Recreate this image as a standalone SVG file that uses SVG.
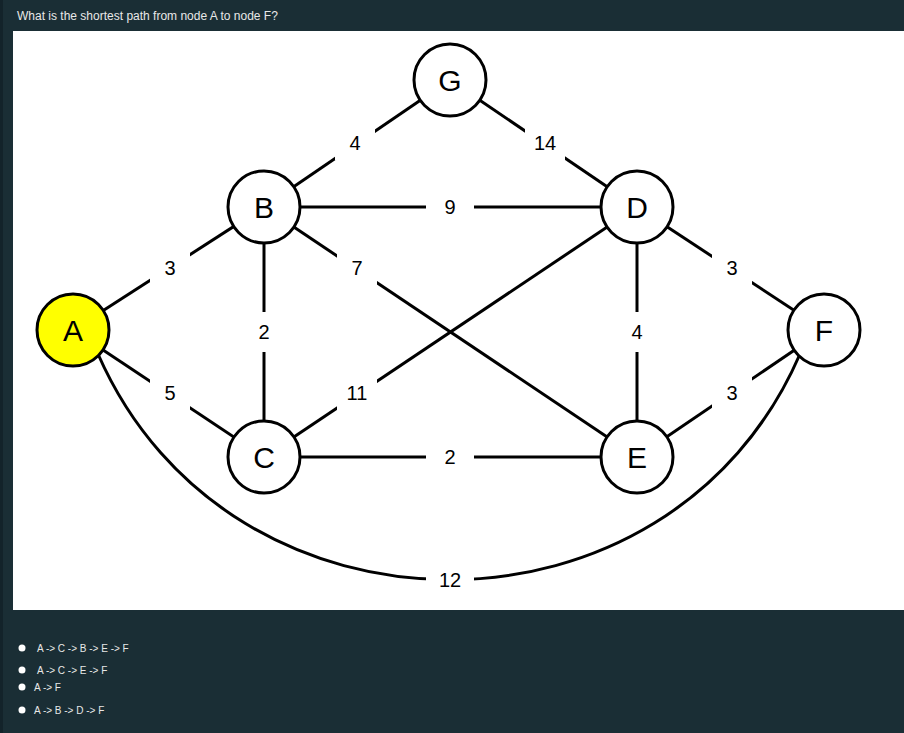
<svg xmlns="http://www.w3.org/2000/svg" width="904" height="733" viewBox="0 0 904 733">
<style>
.e{stroke:#000;stroke-width:3;fill:none}
.n{fill:#fff;stroke:#000;stroke-width:3}
.nt{font-family:"Liberation Sans",Arial,sans-serif;font-size:30px;text-anchor:middle;dominant-baseline:central}
.lt{font-family:"Liberation Sans",Arial,sans-serif;font-size:20px;text-anchor:middle;dominant-baseline:central}
.lb{fill:#fff}
.ui{font-family:"Liberation Sans",Arial,sans-serif;fill:#e8e8e8}
</style>
<rect width="904" height="733" fill="#1a2e35"/>
<rect x="0" y="0" width="3" height="733" fill="#13232a"/>
<text x="17" y="20" class="ui" font-size="12">What is the shortest path from node A to node F?</text>
<rect x="13" y="31" width="891" height="579" fill="#fff"/>
<g id="connectors">
<line class="e" x1="450" y1="80" x2="264" y2="207"/>
<line class="e" x1="450" y1="80" x2="637" y2="207"/>
<line class="e" x1="264" y1="207" x2="637" y2="207"/>
<line class="e" x1="73" y1="330" x2="264" y2="207"/>
<line class="e" x1="73" y1="330" x2="264" y2="457"/>
<line class="e" x1="264" y1="207" x2="264" y2="457"/>
<line class="e" x1="264" y1="207" x2="637" y2="457"/>
<line class="e" x1="264" y1="457" x2="637" y2="207"/>
<line class="e" x1="637" y1="207" x2="637" y2="457"/>
<line class="e" x1="637" y1="207" x2="824" y2="330"/>
<line class="e" x1="637" y1="457" x2="824" y2="330"/>
<line class="e" x1="264" y1="457" x2="637" y2="457"/>
<path class="e" d="M98,354 C230,655 670,655 800,354"/>
<g id="labels">
<rect class="lb" x="335" y="126" width="40" height="34"/><text class="lt" x="355" y="143">4</text>
<rect class="lb" x="525" y="126" width="40" height="34"/><text class="lt" x="545" y="143">14</text>
<rect class="lb" x="426" y="190" width="48" height="34"/><text class="lt" x="450" y="207">9</text>
<rect class="lb" x="150" y="251" width="40" height="34"/><text class="lt" x="170" y="268">3</text>
<rect class="lb" x="150" y="376" width="40" height="34"/><text class="lt" x="170" y="393">5</text>
<rect class="lb" x="249" y="312" width="30" height="40"/><text class="lt" x="264" y="332">2</text>
<rect class="lb" x="337" y="251" width="40" height="34"/><text class="lt" x="357" y="268">7</text>
<rect class="lb" x="337" y="376" width="40" height="34"/><text class="lt" x="357" y="393">11</text>
<rect class="lb" x="622" y="312" width="30" height="40"/><text class="lt" x="637" y="332">4</text>
<rect class="lb" x="712" y="251" width="40" height="34"/><text class="lt" x="732" y="268">3</text>
<rect class="lb" x="712" y="376" width="40" height="34"/><text class="lt" x="732" y="393">3</text>
<rect class="lb" x="426" y="440" width="48" height="34"/><text class="lt" x="450" y="457">2</text>
<rect class="lb" x="426" y="563" width="48" height="34"/><text class="lt" x="450" y="580">12</text>
</g>
</g>
<g id="G"><circle class="n" cx="450" cy="80" r="36"/><text class="nt" x="450" y="80">G</text></g>
<g id="B"><circle class="n" cx="264" cy="207" r="36"/><text class="nt" x="264" y="207">B</text></g>
<g id="D"><circle class="n" cx="637" cy="207" r="36"/><text class="nt" x="637" y="207">D</text></g>
<g id="A"><circle class="n" cx="73" cy="330" r="36" fill="#ffff00" style="fill:#ffff00"/><text class="nt" x="73" y="330">A</text></g>
<g id="F"><circle class="n" cx="824" cy="330" r="36"/><text class="nt" x="824" y="330">F</text></g>
<g id="C"><circle class="n" cx="264" cy="457" r="36"/><text class="nt" x="264" y="457">C</text></g>
<g id="E"><circle class="n" cx="637" cy="457" r="36"/><text class="nt" x="637" y="457">E</text></g>
<g id="options" font-size="10">
<circle cx="22" cy="648" r="3.5" fill="#fff"/><text class="ui" x="37" y="652" font-size="10">A -&gt; C -&gt; B -&gt; E -&gt; F</text>
<circle cx="22" cy="670" r="3.5" fill="#fff"/><text class="ui" x="37" y="674" font-size="10">A -&gt; C -&gt; E -&gt; F</text>
<circle cx="22" cy="687" r="3.5" fill="#fff"/><text class="ui" x="34" y="691" font-size="10">A -&gt; F</text>
<circle cx="22" cy="710" r="3.5" fill="#fff"/><text class="ui" x="34" y="714" font-size="10">A -&gt; B -&gt; D -&gt; F</text>
</g>
</svg>
